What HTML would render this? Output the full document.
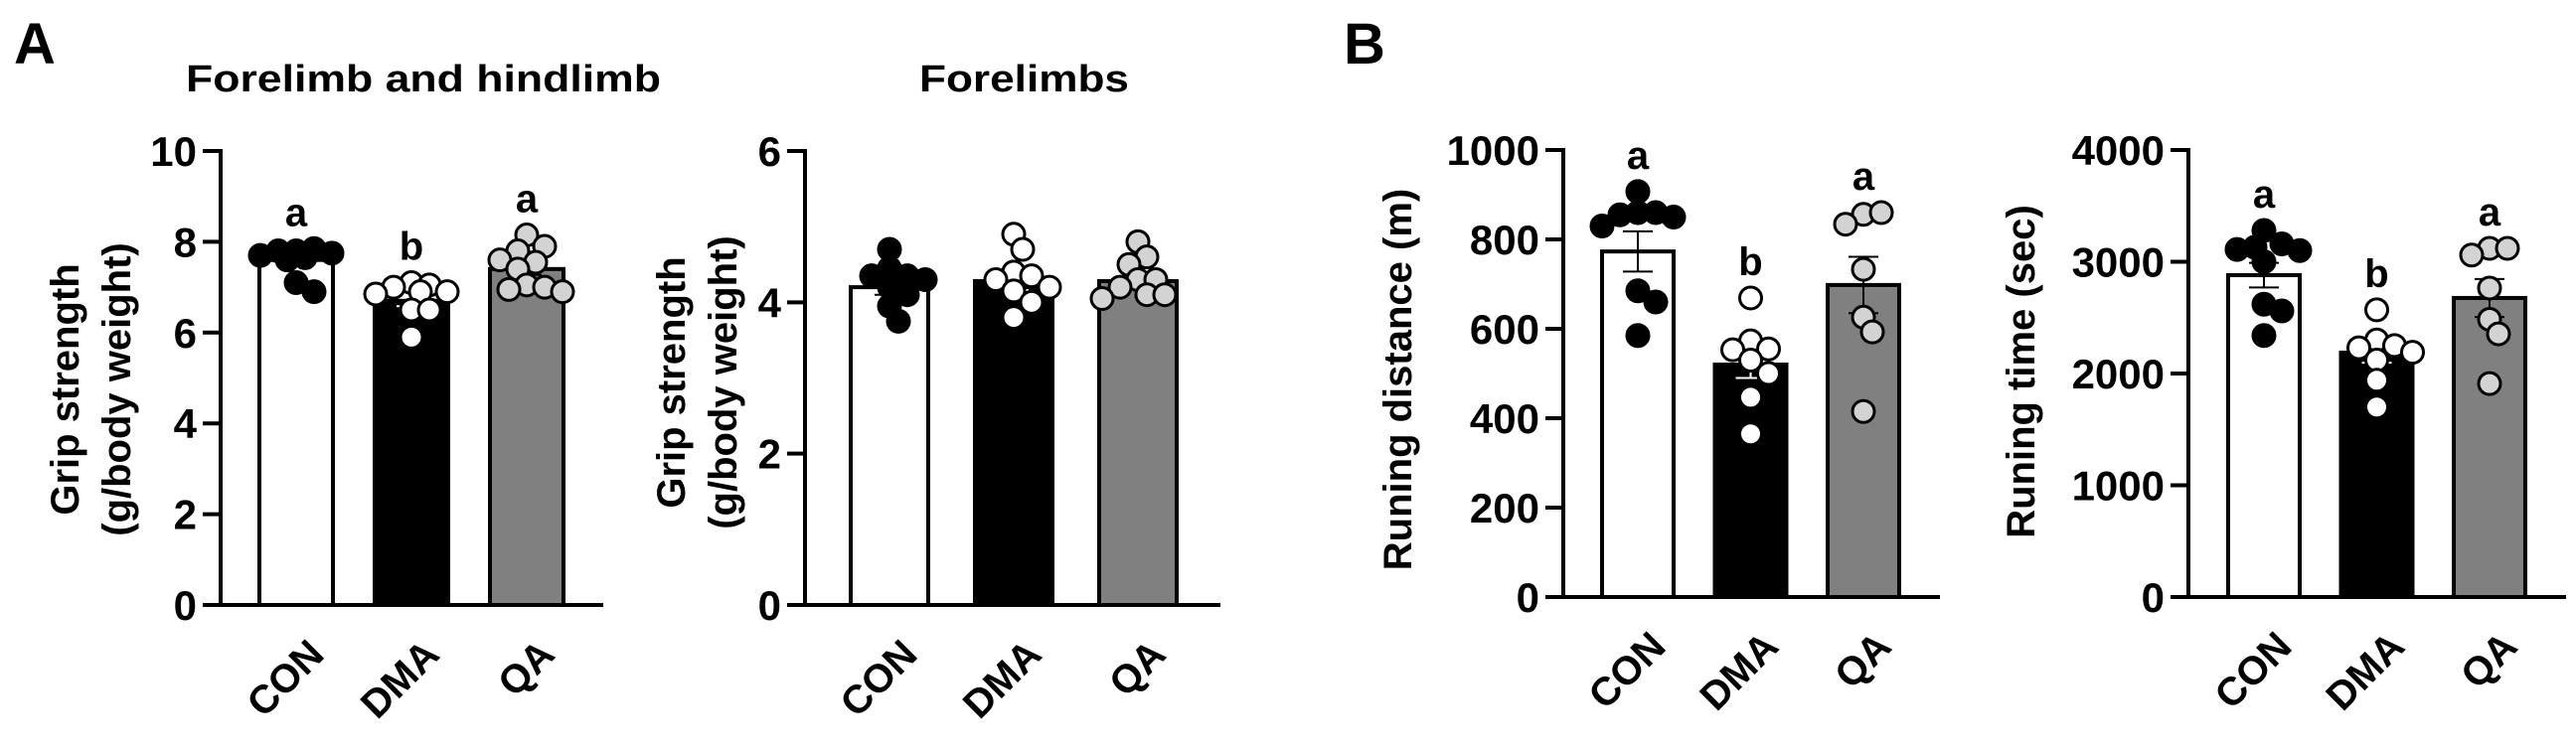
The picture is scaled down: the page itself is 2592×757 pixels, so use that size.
<!DOCTYPE html>
<html><head><meta charset="utf-8"><style>
html,body{margin:0;padding:0;background:#fff;}
svg{display:block;font-family:"Liberation Sans",Arial,sans-serif;font-weight:bold;}
</style></head><body>
<svg id="fig" width="2592" height="757" viewBox="0 0 2592 757" xmlns="http://www.w3.org/2000/svg">
<text x="14" y="64" font-size="58">A</text>
<text x="1352" y="64" font-size="58">B</text>
<text x="187" y="92" font-size="38" textLength="478" lengthAdjust="spacingAndGlyphs">Forelimb and hindlimb</text>
<text x="925" y="92" font-size="38" textLength="211" lengthAdjust="spacingAndGlyphs">Forelimbs</text>
</svg>
<script>
const categories = ["CON", "DMA", "QA"];
// Panel A1: forelimb and hindlimb grip strength
const p1Means = [7.6, 6.7, 7.4];
const p1Sem = [0.1, 0.12, 0.13];
const p1Letters = ["a", "b", "a"];
const p1Con = [7.8, 7.85, 7.8, 7.75, 7.7, 7.65, 7.6, 7.1, 6.9];
const p1Dma = [7.1, 7.05, 7.0, 6.9, 6.85, 6.9, 6.5, 6.5, 5.9];
const p1Qa = [8.15, 7.9, 7.8, 7.6, 7.55, 7.4, 7.05, 7.0, 6.95, 6.9];
const p1Ticks = [0, 2, 4, 6, 8, 10];
// Panel A2: forelimbs grip strength
const p2Means = [4.2, 4.28, 4.28];
const p2Sem = [0.1, 0.12, 0.08];
const p2Letters = ["", "", ""];
const p2Con = [4.7, 4.45, 4.35, 4.35, 4.3, 4.2, 4.1, 3.95, 3.75];
const p2Dma = [4.9, 4.7, 4.4, 4.35, 4.3, 4.2, 4.15, 4.0, 3.8];
const p2Qa = [4.8, 4.6, 4.5, 4.3, 4.3, 4.2, 4.1, 4.1, 4.05];
const p2Ticks = [0, 2, 4, 6];
// Panel B1: running distance
const p3Means = [773, 520, 698];
const p3Sem = [45, 30, 63];
const p3Letters = ["a", "b", "a"];
const p3Con = [907, 860, 860, 855, 850, 830, 685, 660, 585];
const p3Dma = [669, 573, 555, 553, 530, 500, 447, 365];
const p3Qa = [856, 860, 834, 733, 626, 593, 415];
const p3Ticks = [0, 200, 400, 600, 800, 1000];
// Panel B2: running time
const p4Means = [2880, 2187, 2676];
const p4Sem = [110, 90, 170];
const p4Letters = ["a", "b", "a"];
const p4Con = [3280, 3160, 3130, 3110, 3100, 3000, 2620, 2560, 2340];
const p4Dma = [2570, 2300, 2250, 2230, 2190, 2120, 1940, 1700];
const p4Qa = [3120, 3120, 3060, 2765, 2485, 2355, 1910];
const p4Ticks = [0, 1000, 2000, 3000, 4000];

const NS = "http://www.w3.org/2000/svg";
const svg = document.getElementById("fig");
function mk(tag, attrs, parent) {
  const e = document.createElementNS(NS, tag);
  for (const k in attrs) e.setAttribute(k, attrs[k]);
  (parent || svg).appendChild(e);
  return e;
}
const barFill = ["#ffffff", "#000000", "#808080"];
const ptFill = ["#000000", "#ffffff", "#d3d3d3"];

function drawPanel(id, cfg, means, sem, letters, groups, ticks) {
  const g = mk("g", {});
  
  
  const ys = v => cfg.y0 - (v / cfg.max) * (cfg.y0 - cfg.yTop);
  const xs = i => cfg.c0 + i * cfg.step;
  means.forEach((m, i) => {
    const r = mk("rect", {x: xs(i) - cfg.bw / 2, y: ys(m), width: cfg.bw, height: cfg.y0 - ys(m),
      fill: barFill[i], stroke: "#000", "stroke-width": 4}, g);
    
    
  });
  means.forEach((m, i) => {
    const eb = mk("g", {stroke: i === 1 ? "#fff" : "#000", "stroke-width": 2}, g);
    
    
    const x = xs(i);
    mk("line", {x1: x, x2: x, y1: ys(m - sem[i]), y2: ys(m + sem[i])}, eb);
    mk("line", {x1: x - 15, x2: x + 15, y1: ys(m + sem[i]), y2: ys(m + sem[i])}, eb);
    mk("line", {x1: x - 15, x2: x + 15, y1: ys(m - sem[i]), y2: ys(m - sem[i])}, eb);
  });
  const R = 11, d = 9, minD = 17, maxOff = 36;
  groups.forEach((vals, i) => {
    const placed = [];
    let minY = Infinity;
    vals.forEach(v => {
      const y = ys(v);
      let best = 0, bestScore = -1;
      for (let k = 0; k < 20; k++) {
        const cand = k === 0 ? 0 : (k % 2 ? 1 : -1) * Math.ceil(k / 2) * d;
        if (Math.abs(cand) > maxOff) break;
        const md = placed.length ? Math.min(...placed.map(p => Math.hypot(p[0] - cand, p[1] - y))) : 999;
        if (md >= minD) { best = cand; bestScore = 999; break; }
        if (md > bestScore) { bestScore = md; best = cand; }
      }
      placed.push([best, y]);
      minY = Math.min(minY, y);
      const c = mk("circle", {cx: xs(i) + best, cy: y, r: R, fill: ptFill[i], stroke: "#000", "stroke-width": 3}, g);
      
      
    });
    if (letters[i]) {
      const t = mk("text", {x: xs(i), y: minY - R - 12, "font-size": 40, "text-anchor": "middle"}, g);
      t.textContent = letters[i];
      
      
    }
  });
  const ax = mk("g", {stroke: "#000", "stroke-width": 4}, g);
  
  
  mk("line", {x1: cfg.ax, x2: cfg.ax, y1: cfg.yTop - 2, y2: cfg.y0}, ax);
  mk("line", {x1: cfg.ax - 18, x2: cfg.axEnd, y1: cfg.y0, y2: cfg.y0}, ax);
  ticks.forEach(t => {
    const y = ys(t);
    if (t !== 0) mk("line", {x1: cfg.ax - 18, x2: cfg.ax, y1: y, y2: y}, ax);
    const lab = mk("text", {x: cfg.ax - 24, y: y + 15, "font-size": 42, "text-anchor": "end"}, g);
    lab.textContent = t;
    
    
  });
  categories.forEach((c, i) => {
    const ax2 = xs(i) + 30, ay = cfg.y0 + 52;
    const t = mk("text", {x: ax2, y: ay, "font-size": 40, "text-anchor": "end", transform: `rotate(-45 ${ax2} ${ay})`}, g);
    t.textContent = c;
    
    
  });
  const cy = cfg.labY;
  cfg.yTitle.forEach((line, k) => {
    const x = cfg.labX[k];
    const t = mk("text", {x: x, y: cy, "font-size": 40, "text-anchor": "middle", transform: `rotate(-90 ${x} ${cy})`}, g);
    t.textContent = line;
    
    
  });
}

drawPanel("grip-all", {ax: 222, axEnd: 607, y0: 609, yTop: 152, max: 10, c0: 298, step: 116, bw: 74,
  labX: [79, 131], labY: 392, yTitle: ["Grip strength", "(g/body weight)"]},
  p1Means, p1Sem, p1Letters, [p1Con, p1Dma, p1Qa], p1Ticks);
drawPanel("grip-fore", {ax: 810, axEnd: 1228, y0: 609, yTop: 152, max: 6, c0: 895, step: 125, bw: 78,
  labX: [689, 741], labY: 385, yTitle: ["Grip strength", "(g/body weight)"]},
  p2Means, p2Sem, p2Letters, [p2Con, p2Dma, p2Qa], p2Ticks);
drawPanel("run-distance", {ax: 1573, axEnd: 1952, y0: 601, yTop: 151, max: 1000, c0: 1648, step: 113.5, bw: 72,
  labX: [1420], labY: 382, yTitle: ["Runing distance (m)"]},
  p3Means, p3Sem, p3Letters, [p3Con, p3Dma, p3Qa], p3Ticks);
drawPanel("run-time", {ax: 2202, axEnd: 2582, y0: 601, yTop: 151, max: 4000, c0: 2278, step: 113.5, bw: 72,
  labX: [2047], labY: 374, yTitle: ["Runing time (sec)"]},
  p4Means, p4Sem, p4Letters, [p4Con, p4Dma, p4Qa], p4Ticks);
</script>
</body></html>
